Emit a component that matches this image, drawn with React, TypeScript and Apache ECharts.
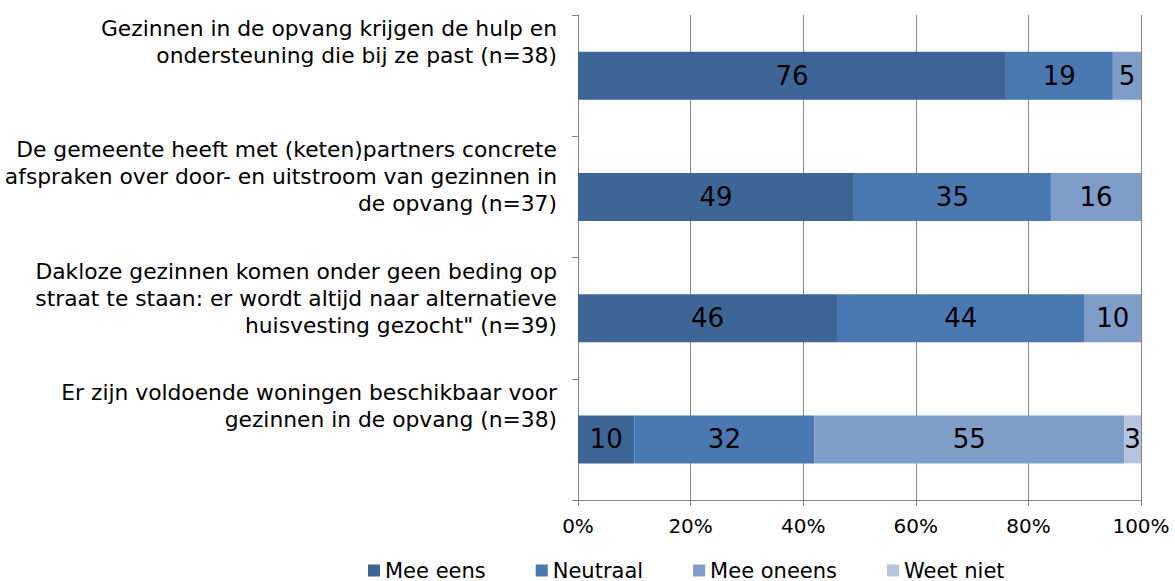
import React, { useEffect, useRef } from "react";
import * as echarts from "echarts";

const categories = [
  "Gezinnen in de opvang krijgen de hulp en\nondersteuning die bij ze past (n=38)",
  "De gemeente heeft met (keten)partners concrete\nafspraken over door- en uitstroom van gezinnen in\nde opvang (n=37)",
  "Dakloze gezinnen komen onder geen beding op\nstraat te staan: er wordt altijd naar alternatieve\nhuisvesting gezocht\" (n=39)",
  "Er zijn voldoende woningen beschikbaar voor\ngezinnen in de opvang (n=38)",
];
const seriesNames = ["Mee eens", "Neutraal", "Mee oneens", "Weet niet"];
const meeEens = [76, 49, 46, 10];
const neutraal = [19, 35, 44, 32];
const meeOneens = [5, 16, 10, 55];
const weetNiet = [0, 0, 0, 3];
const colors = ["#3d6696", "#4a78b0", "#7f9dc9", "#b5c5e0"];

const FONT = "DejaVu Sans";

export default function App() {
  const ref = useRef<HTMLDivElement>(null);
  useEffect(() => {
    document.body.style.margin = "0";
    const chart = echarts.init(ref.current!, null, { renderer: "svg" });
    const values = [meeEens, neutraal, meeOneens, weetNiet];
    chart.setOption({
      animation: false,
      textStyle: { fontFamily: FONT },
      grid: { left: 578, right: 34, top: 15, bottom: 81, containLabel: false },
      legend: {
        left: 368,
        top: 560,
        padding: 0,
        icon: "rect",
        itemWidth: 12,
        itemHeight: 12,
        itemGap: 50,
        textStyle: { fontSize: 21, color: "#000", fontFamily: FONT },
        data: seriesNames,
      },
      xAxis: {
        type: "value",
        min: 0,
        max: 100,
        interval: 20,
        axisLabel: {
          formatter: "{value}%",
          fontSize: 20,
          color: "#000",
          margin: 16,
          fontFamily: FONT,
        },
        axisLine: { show: true, lineStyle: { color: "#868686" } },
        axisTick: { show: true, length: 6, lineStyle: { color: "#868686" } },
        splitLine: { show: true, lineStyle: { color: "#868686", width: 1 } },
      },
      yAxis: [
        {
          type: "category",
          data: categories,
          inverse: true,
          axisLabel: { show: false },
          axisLine: { show: true, lineStyle: { color: "#868686" } },
          axisTick: { show: true, length: 6, lineStyle: { color: "#868686" } },
        },
        {
          type: "category",
          data: [...categories, ""],
          inverse: true,
          boundaryGap: false,
          position: "left",
          axisLine: { show: false },
          axisTick: { show: false },
          splitLine: { show: false },
          axisLabel: {
            interval: 0,
            align: "right",
            verticalAlign: "top",
            margin: 21,
            fontSize: 21.8,
            lineHeight: 27,
            color: "#000",
            fontFamily: FONT,
          },
        },
      ],
      series: seriesNames.map((name, i) => ({
        name,
        type: "bar",
        stack: "total",
        yAxisIndex: 0,
        barWidth: 48,
        data: values[i],
        itemStyle: { color: colors[i] },
        label: {
          show: true,
          position: "inside",
          color: "#000",
          fontSize: 26,
          fontFamily: FONT,
          formatter: (p: any) => (p.value ? String(p.value) : ""),
        },
      })),
    });
    return () => chart.dispose();
  }, []);
  return <div ref={ref} style={{ width: 1175, height: 581 }} />;
}
